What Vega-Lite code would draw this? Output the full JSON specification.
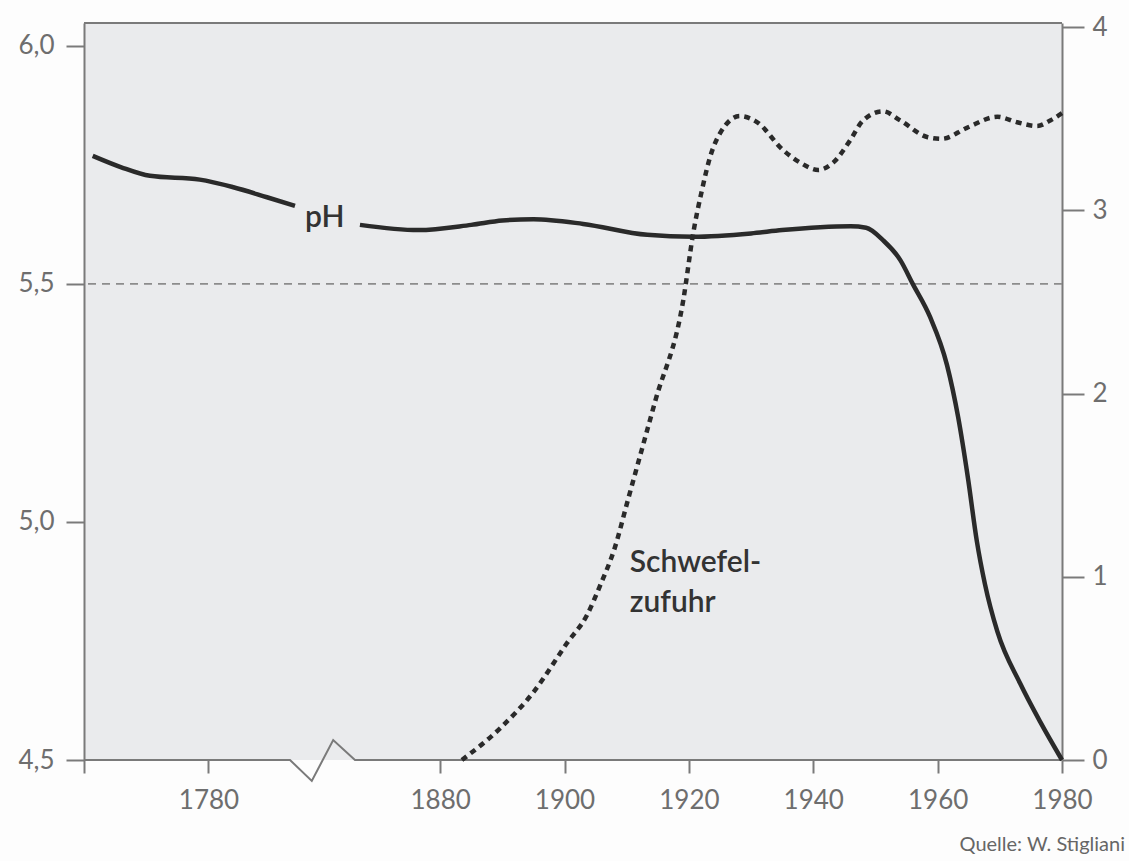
{
  "$schema": "https://vega.github.io/schema/vega-lite/v6.json",
  "width": 978,
  "height": 737,
  "autosize": {"type": "none"},
  "padding": {"left": 84, "top": 23, "right": 67, "bottom": 101},
  "background": "#fdfdfd",
  "title": {
    "text": "Quelle: W. Stigliani",
    "orient": "bottom",
    "anchor": "end",
    "frame": "group",
    "dx": 63,
    "offset": 22,
    "font": "Lato",
    "fontSize": 20,
    "fontWeight": "normal",
    "color": "#666666"
  },
  "config": {
    "view": {"stroke": null, "fill": "#eaebed"},
    "font": "Lato",
    "axis": {
      "labelFont": "Lato",
      "labelFontSize": 26,
      "labelColor": "#6e6e6e",
      "labelFlush": false,
      "labelOverlap": false,
      "domainColor": "#7a7a7a",
      "domainWidth": 2,
      "tickColor": "#7a7a7a",
      "tickWidth": 2,
      "grid": false
    }
  },
  "datasets": {
    "ph": [
      {"seg": "a", "year": 1761.4, "ph": 5.769},
      {"seg": "a", "year": 1766, "ph": 5.745},
      {"seg": "a", "year": 1770.6, "ph": 5.727},
      {"seg": "a", "year": 1778.6, "ph": 5.719},
      {"seg": "a", "year": 1784, "ph": 5.703},
      {"seg": "a", "year": 1789.4, "ph": 5.682},
      {"seg": "a", "year": 1793.9, "ph": 5.664},
      {"seg": "b", "year": 1867.1, "ph": 5.624},
      {"seg": "b", "year": 1876.5, "ph": 5.613},
      {"seg": "b", "year": 1885, "ph": 5.624},
      {"seg": "b", "year": 1890, "ph": 5.633},
      {"seg": "b", "year": 1895, "ph": 5.636},
      {"seg": "b", "year": 1903, "ph": 5.626},
      {"seg": "b", "year": 1913.3, "ph": 5.603},
      {"seg": "b", "year": 1920.7, "ph": 5.599},
      {"seg": "b", "year": 1930, "ph": 5.606},
      {"seg": "b", "year": 1935, "ph": 5.613},
      {"seg": "b", "year": 1946, "ph": 5.621},
      {"seg": "b", "year": 1948.5, "ph": 5.618},
      {"seg": "b", "year": 1951.2, "ph": 5.592},
      {"seg": "b", "year": 1954, "ph": 5.55},
      {"seg": "b", "year": 1956, "ph": 5.5},
      {"seg": "b", "year": 1958.8, "ph": 5.43},
      {"seg": "b", "year": 1961.5, "ph": 5.33},
      {"seg": "b", "year": 1963.3, "ph": 5.22},
      {"seg": "b", "year": 1964.9, "ph": 5.09},
      {"seg": "b", "year": 1966.3, "ph": 4.96},
      {"seg": "b", "year": 1967.6, "ph": 4.87},
      {"seg": "b", "year": 1969.6, "ph": 4.77},
      {"seg": "b", "year": 1973.3, "ph": 4.66},
      {"seg": "b", "year": 1976.5, "ph": 4.58},
      {"seg": "b", "year": 1980, "ph": 4.5}
    ],
    "sulfur": [
      {"year": 1883.5, "s": 0},
      {"year": 1889.7, "s": 0.175},
      {"year": 1895, "s": 0.37},
      {"year": 1900.4, "s": 0.638},
      {"year": 1903.6, "s": 0.79},
      {"year": 1905.7, "s": 0.95},
      {"year": 1908.1, "s": 1.16},
      {"year": 1910.2, "s": 1.42},
      {"year": 1914.6, "s": 1.96},
      {"year": 1919.1, "s": 2.51},
      {"year": 1920.7, "s": 2.876},
      {"year": 1922.1, "s": 3.11},
      {"year": 1923.4, "s": 3.29},
      {"year": 1925, "s": 3.42},
      {"year": 1928.2, "s": 3.514},
      {"year": 1931, "s": 3.48},
      {"year": 1935.1, "s": 3.33},
      {"year": 1937.9, "s": 3.26},
      {"year": 1940.8, "s": 3.22},
      {"year": 1943.2, "s": 3.26},
      {"year": 1945.9, "s": 3.38},
      {"year": 1948, "s": 3.49},
      {"year": 1951.2, "s": 3.54},
      {"year": 1954, "s": 3.49},
      {"year": 1958.3, "s": 3.4},
      {"year": 1960.7, "s": 3.39},
      {"year": 1964.7, "s": 3.45},
      {"year": 1969.6, "s": 3.51},
      {"year": 1972.8, "s": 3.48},
      {"year": 1976, "s": 3.46},
      {"year": 1978.1, "s": 3.49},
      {"year": 1980, "s": 3.53}
    ],
    "baseline": [
      {"year": 1760, "ph": 4.5},
      {"year": 1793.1, "ph": 4.5},
      {"year": 1796.6, "ph": 4.456},
      {"year": 1862.8, "ph": 4.542},
      {"year": 1866.3, "ph": 4.5},
      {"year": 1980, "ph": 4.5}
    ]
  },
  "layer": [
    {
      "layer": [
        {
          "data": {"values": [{}]},
          "mark": {"type": "rule", "color": "#8c8c8c", "strokeWidth": 1.6, "strokeDash": [8, 6]},
          "encoding": {
            "y": {"datum": 5.5, "type": "quantitative", "scale": {"domain": [4.5, 6.048]},
              "axis": {"title": null, "orient": "left", "values": [4.5, 5.0, 5.5, 6.0], "labelExpr": "replace(format(datum.value, '.1f'), '.', ',')", "tickSize": 18, "labelPadding": 12}}
          }
        },
        {
          "data": {"values": [{}]},
          "mark": {"type": "rule", "color": "#7a7a7a", "strokeWidth": 2},
          "encoding": {
            "y": {"datum": 6.048, "type": "quantitative", "scale": {"domain": [4.5, 6.048]},
              "axis": {"title": null, "orient": "left", "values": [4.5, 5.0, 5.5, 6.0], "labelExpr": "replace(format(datum.value, '.1f'), '.', ',')", "tickSize": 18, "labelPadding": 12}}
          }
        },
        {
          "data": {"name": "baseline"},
          "mark": {"type": "line", "color": "#7a7a7a", "strokeWidth": 2, "clip": false},
          "encoding": {
            "x": {"field": "year", "type": "quantitative", "scale": {"domain": [1760, 1798, 1861, 1980], "range": [0, 236.5, 238, 978]},
              "axis": {"title": null, "domain": false, "values": [1760, 1780, 1880, 1900, 1920, 1940, 1960, 1980], "labelExpr": "datum.value == 1760 ? '' : datum.label", "format": "d", "tickSize": 13, "labelPadding": 14}},
            "y": {"field": "ph", "type": "quantitative", "scale": {"domain": [4.5, 6.048]},
              "axis": {"title": null, "orient": "left", "values": [4.5, 5.0, 5.5, 6.0], "labelExpr": "replace(format(datum.value, '.1f'), '.', ',')", "tickSize": 18, "labelPadding": 12}}
          }
        },
        {
          "data": {"name": "ph"},
          "mark": {"type": "line", "color": "#2a2a2a", "strokeWidth": 4.5, "interpolate": "monotone", "strokeCap": "butt"},
          "encoding": {
            "x": {"field": "year", "type": "quantitative", "scale": {"domain": [1760, 1798, 1861, 1980], "range": [0, 236.5, 238, 978]},
              "axis": {"title": null, "domain": false, "values": [1760, 1780, 1880, 1900, 1920, 1940, 1960, 1980], "labelExpr": "datum.value == 1760 ? '' : datum.label", "format": "d", "tickSize": 13, "labelPadding": 14}},
            "y": {"field": "ph", "type": "quantitative", "scale": {"domain": [4.5, 6.048]},
              "axis": {"title": null, "orient": "left", "values": [4.5, 5.0, 5.5, 6.0], "labelExpr": "replace(format(datum.value, '.1f'), '.', ',')", "tickSize": 18, "labelPadding": 12}},
            "detail": {"field": "seg"}
          }
        },
        {
          "data": {"values": [{}]},
          "mark": {"type": "text", "font": "Lato", "fontSize": 30, "fontWeight": 600, "color": "#333333", "align": "left", "baseline": "alphabetic"},
          "encoding": {
            "x": {"datum": 1795.5, "type": "quantitative", "scale": {"domain": [1760, 1798, 1861, 1980], "range": [0, 236.5, 238, 978]},
              "axis": {"title": null, "domain": false, "values": [1760, 1780, 1880, 1900, 1920, 1940, 1960, 1980], "labelExpr": "datum.value == 1760 ? '' : datum.label", "format": "d", "tickSize": 13, "labelPadding": 14}},
            "y": {"datum": 5.62, "type": "quantitative", "scale": {"domain": [4.5, 6.048]},
              "axis": {"title": null, "orient": "left", "values": [4.5, 5.0, 5.5, 6.0], "labelExpr": "replace(format(datum.value, '.1f'), '.', ',')", "tickSize": 18, "labelPadding": 12}},
            "text": {"value": "pH"}
          }
        },
        {
          "data": {"values": [{}]},
          "mark": {"type": "text", "font": "Lato", "fontSize": 30, "fontWeight": 600, "color": "#333333", "align": "left", "baseline": "alphabetic", "lineHeight": 40},
          "encoding": {
            "x": {"datum": 1910.5, "type": "quantitative", "scale": {"domain": [1760, 1798, 1861, 1980], "range": [0, 236.5, 238, 978]},
              "axis": {"title": null, "domain": false, "values": [1760, 1780, 1880, 1900, 1920, 1940, 1960, 1980], "labelExpr": "datum.value == 1760 ? '' : datum.label", "format": "d", "tickSize": 13, "labelPadding": 14}},
            "y": {"datum": 4.895, "type": "quantitative", "scale": {"domain": [4.5, 6.048]},
              "axis": {"title": null, "orient": "left", "values": [4.5, 5.0, 5.5, 6.0], "labelExpr": "replace(format(datum.value, '.1f'), '.', ',')", "tickSize": 18, "labelPadding": 12}},
            "text": {"value": ["Schwefel-", "zufuhr"]}
          }
        }
      ]
    },
    {
      "data": {"name": "sulfur"},
      "mark": {"type": "line", "color": "#2a2a2a", "strokeWidth": 4.5, "strokeDash": [6, 5], "interpolate": "monotone", "strokeCap": "butt"},
      "encoding": {
        "x": {"field": "year", "type": "quantitative", "scale": {"domain": [1760, 1798, 1861, 1980], "range": [0, 236.5, 238, 978]},
          "axis": {"title": null, "domain": false, "values": [1760, 1780, 1880, 1900, 1920, 1940, 1960, 1980], "labelExpr": "datum.value == 1760 ? '' : datum.label", "format": "d", "tickSize": 13, "labelPadding": 14}},
        "y": {
          "field": "s", "type": "quantitative",
          "scale": {"domain": [0, 4.022]},
          "axis": {"title": null, "orient": "right", "values": [0, 1, 2, 3, 4], "tickSize": 22, "labelPadding": 8}
        }
      }
    }
  ],
  "resolve": {"scale": {"y": "independent"}, "axis": {"y": "independent"}}
}
